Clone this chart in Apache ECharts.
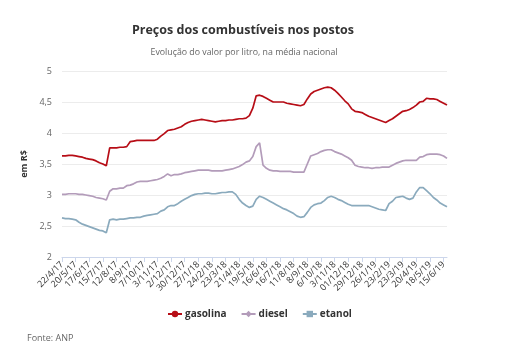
<!DOCTYPE html>
<html><head><meta charset="utf-8">
<script src="https://cdn.jsdelivr.net/npm/echarts@6/dist/echarts.min.js"></script>
<style>html,body{margin:0;padding:0;background:#fff}#c{width:515px;height:346px}</style>
</head><body><div id="c"></div>
<script>
const dates = ["22/4/17","29/4/17","6/5/17","13/5/17","20/5/17","27/5/17","3/6/17","10/6/17","17/6/17","24/6/17","1/7/17","8/7/17","15/7/17","22/7/17","29/7/17","5/8/17","12/8/17","19/8/17","26/8/17","2/9/17","8/9/17","16/9/17","23/9/17","30/9/17","7/10/17","14/10/17","21/10/17","28/10/17","3/11/17","11/11/17","18/11/17","25/11/17","2/12/17","9/12/17","16/12/17","23/12/17","30/12/17","6/1/18","13/1/18","20/1/18","27/1/18","3/2/18","10/2/18","17/2/18","24/2/18","3/3/18","10/3/18","17/3/18","23/3/18","31/3/18","7/4/18","14/4/18","21/4/18","28/4/18","5/5/18","12/5/18","19/5/18","26/5/18","2/6/18","9/6/18","16/6/18","23/6/18","30/6/18","7/7/18","16/7/18","21/7/18","28/7/18","4/8/18","11/8/18","18/8/18","25/8/18","1/9/18","8/9/18","15/9/18","22/9/18","29/9/18","6/10/18","13/10/18","20/10/18","27/10/18","3/11/18","10/11/18","17/11/18","24/11/18","01/12/18","8/12/18","15/12/18","22/12/18","29/12/18","5/1/19","12/1/19","19/1/19","26/1/19","2/2/19","9/2/19","16/2/19","23/2/19","2/3/19","9/3/19","16/3/19","23/3/19","30/3/19","6/4/19","13/4/19","20/4/19","27/4/19","4/5/19","11/5/19","18/5/19","25/5/19","1/6/19","8/6/19","15/6/19","22/6/19"];
const gasolina = [3.63,3.63,3.64,3.64,3.63,3.62,3.61,3.59,3.58,3.57,3.55,3.52,3.50,3.47,
3.76,3.76,3.76,3.77,3.77,3.78,3.86,3.87,3.88,3.88,3.88,3.88,3.88,3.88,3.90,
3.95,3.99,4.04,4.05,4.06,4.08,4.10,4.14,4.17,4.19,4.20,4.21,4.22,4.21,4.20,4.19,4.18,4.19,4.20,4.20,4.21,4.21,4.22,4.23,4.23,4.24,4.28,4.40,4.60,4.61,4.59,4.56,4.53,4.50,4.50,4.50,4.50,4.48,4.47,4.46,4.45,4.44,4.46,4.55,4.63,4.67,4.69,4.71,4.73,4.74,4.73,4.69,4.64,4.58,4.52,4.47,4.39,4.35,4.34,4.33,4.30,4.27,4.25,4.23,4.21,4.19,4.17,4.20,4.23,4.27,4.31,4.35,4.36,4.38,4.41,4.45,4.50,4.51,4.56,4.55,4.55,4.54,4.51,4.48,4.45];
const diesel = [3.01,3.01,3.02,3.02,3.02,3.01,3.01,3.00,2.99,2.98,2.96,2.95,2.94,2.92,
3.06,3.10,3.10,3.11,3.11,3.15,3.16,3.18,3.21,3.22,3.22,3.22,3.23,3.24,3.25,3.27,3.30,3.34,3.31,3.33,3.33,3.34,3.36,3.37,3.38,3.39,3.40,3.40,3.40,3.40,3.39,3.39,3.39,3.39,3.40,3.41,3.42,3.44,3.46,3.49,3.53,3.55,3.62,3.78,3.84,3.48,3.43,3.40,3.39,3.39,3.38,3.38,3.38,3.38,3.37,3.37,3.37,3.37,3.50,3.63,3.65,3.67,3.70,3.72,3.73,3.73,3.70,3.68,3.66,3.63,3.60,3.56,3.48,3.46,3.45,3.44,3.44,3.43,3.44,3.44,3.45,3.45,3.45,3.48,3.51,3.53,3.55,3.56,3.56,3.56,3.56,3.61,3.62,3.65,3.66,3.66,3.66,3.65,3.63,3.59];
const etanol = [2.63,2.62,2.62,2.61,2.60,2.56,2.53,2.51,2.49,2.47,2.45,2.43,2.42,2.39,
2.60,2.61,2.60,2.61,2.61,2.62,2.63,2.63,2.64,2.64,2.66,2.67,2.68,2.69,2.70,2.74,2.76,2.81,2.83,2.83,2.86,2.90,2.93,2.96,2.99,3.01,3.02,3.02,3.03,3.03,3.02,3.02,3.03,3.04,3.04,3.05,3.05,3.01,2.93,2.87,2.83,2.80,2.82,2.93,2.98,2.96,2.93,2.90,2.87,2.84,2.81,2.78,2.76,2.73,2.70,2.66,2.64,2.65,2.72,2.80,2.84,2.86,2.87,2.91,2.96,2.98,2.96,2.93,2.91,2.88,2.85,2.83,2.83,2.83,2.83,2.83,2.83,2.81,2.79,2.77,2.76,2.75,2.86,2.90,2.96,2.97,2.98,2.95,2.93,2.95,3.05,3.12,3.12,3.07,3.02,2.96,2.92,2.87,2.84,2.81];
const seriesNames = ["gasolina","diesel","etanol"];
const yTicks = {min:2, max:5, interval:0.5};

const chart = echarts.init(document.getElementById('c'));
const font = "'Open Sans', sans-serif";
const colors = ['#b70d16','#b39cba','#8aaabd'];
const symbols = ['circle','diamond','rect'];
const data = [gasolina, diesel, etanol];
chart.setOption({
  animation:false,
  textStyle:{fontFamily:font},
  title:[
    {text:'Preços dos combustíveis nos postos', left:238, top:19, textAlign:'center',
     textStyle:{fontSize:12.5, fontWeight:'bold', color:'#333', fontFamily:font}},
    {text:'Evolução do valor por litro, na média nacional', left:239, top:43, textAlign:'center',
     textStyle:{fontSize:8.8, fontWeight:'normal', color:'#666', fontFamily:font}},
    {text:'Fonte: ANP', left:22, top:329,
     textStyle:{fontSize:9, fontWeight:'normal', color:'#666', fontFamily:font}}
  ],
  legend:{
    data:seriesNames, top:304, left:162, itemGap:14, itemWidth:14, itemHeight:8,
    textStyle:{fontSize:10, fontWeight:'bold', color:'#333', fontFamily:font, padding:[0,0,0,-2]}
  },
  grid:{left:62, right:68, top:71, bottom:89, containLabel:false},
  xAxis:{
    type:'category', data:dates, boundaryGap:false,
    axisLine:{lineStyle:{color:'#ccd6eb'}},
    axisTick:{show:true, interval:3, length:5, lineStyle:{color:'#ccd6eb'}},
    axisLabel:{interval:3, rotate:45, fontSize:9, color:'#333', margin:6, fontFamily:font},
    splitLine:{show:false}
  },
  yAxis:{
    type:'value', min:yTicks.min, max:yTicks.max, interval:yTicks.interval,
    name:'em R$', nameLocation:'middle', nameGap:30, nameRotate:90,
    nameTextStyle:{fontSize:9, fontWeight:'bold', color:'#333', fontFamily:font},
    axisLine:{show:false}, axisTick:{show:false},
    axisLabel:{fontSize:9, color:'#666', margin:10, fontFamily:font,
      formatter:v=>String(v).replace('.',',')},
    splitLine:{lineStyle:{color:'#ececec'}}
  },
  series: seriesNames.map((n,k)=>({
    name:n, type:'line', data:data[k], symbol:symbols[k], symbolSize:7, showSymbol:false,
    lineStyle:{width:1.7, color:colors[k]}, itemStyle:{color:colors[k]}
  }))
});
</script></body></html>
